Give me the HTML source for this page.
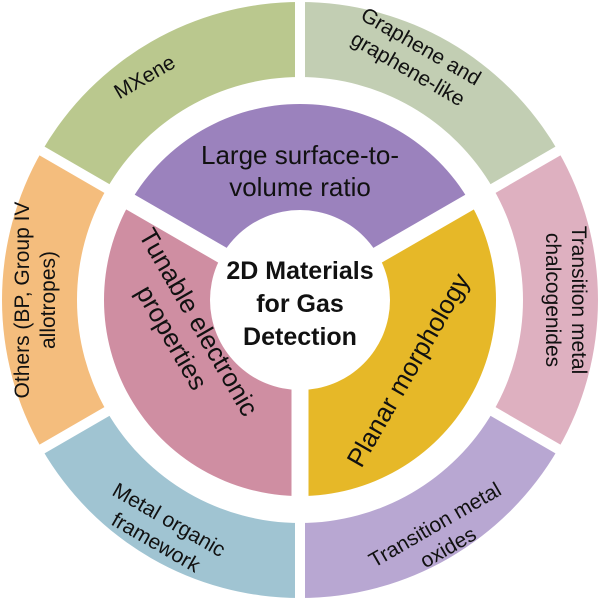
<!DOCTYPE html>
<html><head><meta charset="utf-8"><style>
html,body{margin:0;padding:0;background:#fff;}
svg{display:block;}
text{font-family:"Liberation Sans",Arial,sans-serif;fill:#111;}
</style></head><body>
<svg width="600" height="599" viewBox="0 0 600 599" xmlns="http://www.w3.org/2000/svg">
<path fill="#bac88e" d="M41.93,151 A298,298 0 0 1 300,2 L300,77 A223,223 0 0 0 106.88,188.5Z"/>
<path fill="#c2ceb3" d="M300,2 A298,298 0 0 1 558.07,151 L493.12,188.5 A223,223 0 0 0 300,77Z"/>
<path fill="#deb0c0" d="M558.07,151 A298,298 0 0 1 558.07,449 L493.12,411.5 A223,223 0 0 0 493.12,188.5Z"/>
<path fill="#b8a7d2" d="M558.07,449 A298,298 0 0 1 300,598 L300,523 A223,223 0 0 0 493.12,411.5Z"/>
<path fill="#a0c4d2" d="M300,598 A298,298 0 0 1 41.93,449 L106.88,411.5 A223,223 0 0 0 300,523Z"/>
<path fill="#f4bd7d" d="M41.93,449 A298,298 0 0 1 41.93,151 L106.88,188.5 A223,223 0 0 0 106.88,411.5Z"/>
<path fill="#9b82bd" d="M130.26,202 A196,196 0 0 1 469.74,202 L376.21,256 A88,88 0 0 0 223.79,256Z"/>
<path fill="#e6b828" d="M469.74,202 A196,196 0 0 1 300,496 L300,388 A88,88 0 0 0 376.21,256Z"/>
<path fill="#cf8ea2" d="M300,496 A196,196 0 0 1 130.26,202 L223.79,256 A88,88 0 0 0 300,388Z"/>
<g stroke="#fff" stroke-width="10">
<line x1="300" y1="85" x2="300" y2="-5"/>
<line x1="486.2" y1="192.5" x2="564" y2="147.5"/>
<line x1="486.2" y1="407.5" x2="564" y2="452.5"/>
<line x1="300" y1="515" x2="300" y2="605"/>
<line x1="113.8" y1="407.5" x2="36" y2="452.5"/>
<line x1="113.8" y1="192.5" x2="36" y2="147.5"/>
</g>
<g stroke="#fff" stroke-width="17">
<line x1="300" y1="300" x2="477.53" y2="197.5"/>
<line x1="300" y1="300" x2="300" y2="505"/>
<line x1="300" y1="300" x2="122.47" y2="197.5"/>
</g>
<circle cx="300" cy="300" r="90" fill="#fff"/>
<g font-size="21" text-anchor="middle">
<text transform="translate(148,83) rotate(-30)">MXene</text>
<text transform="translate(412,62) rotate(30)"><tspan x="0" y="-11">Graphene and</tspan><tspan x="0" y="15">graphene-like</tspan></text>
<text transform="translate(565,300) rotate(90)"><tspan x="0" y="-7">Transition metal</tspan><tspan x="0" y="19">chalcogenides</tspan></text>
<text transform="translate(442,537) rotate(-30)"><tspan x="0" y="-7">Transition metal</tspan><tspan x="0" y="19">oxides</tspan></text>
<text transform="translate(162,532) rotate(30)"><tspan x="0" y="-7">Metal organic</tspan><tspan x="0" y="19">framework</tspan></text>
<text transform="translate(36,300) rotate(-90)"><tspan x="0" y="-7">Others (BP, Group IV</tspan><tspan x="0" y="19">allotropes)</tspan></text>
</g>
<g font-size="26" text-anchor="middle">
<text x="300" y="164">Large surface-to-</text>
<text x="300" y="196">volume ratio</text>
<text transform="translate(185,330) rotate(60)"><tspan x="0" y="-7">Tunable electronic</tspan><tspan x="0" y="24">properties</tspan></text>
<text transform="translate(408,370) rotate(-60)"><tspan x="0" y="9">Planar morphology</tspan></text>
</g>
<g font-size="25" font-weight="bold" text-anchor="middle">
<text x="300" y="279">2D Materials</text>
<text x="300" y="312">for Gas</text>
<text x="300" y="345">Detection</text>
</g>
</svg>
</body></html>
